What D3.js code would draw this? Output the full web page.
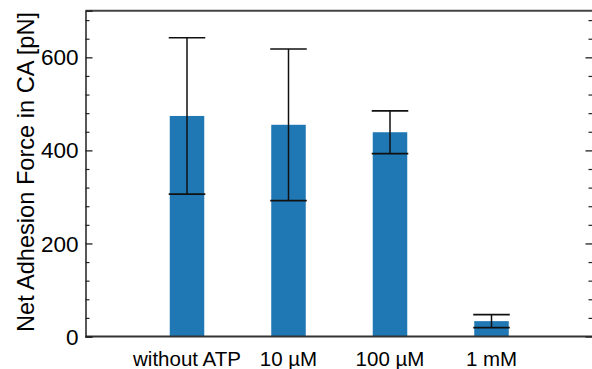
<!DOCTYPE html>
<html>
<head>
<meta charset="utf-8">
<script src="https://cdn.jsdelivr.net/npm/d3@7"></script>
<style>
  html, body { margin: 0; padding: 0; background: #fff; }
  svg { display: block; }
  text { font-family: "Liberation Sans", Arial, Helvetica, sans-serif; }
</style>
</head>
<body>
<svg id="chart" width="592" height="369"></svg>
<script>
const categories = ["without ATP", "10 \u00B5M", "100 \u00B5M", "1 mM"];
const means = [474, 455, 439, 33];
const errors = [168, 163, 46, 14];
const yTickValues = [0, 200, 400, 600];
const yTitle = "Net Adhesion Force in CA [pN]";

(function () {
const svg = d3.select("#chart");
const W = 592, H = 369;
const mLeft = 85.5, mRight = 593, mTop = 10.8, mBottom = 336.5;

const x = d3.scaleLinear().domain([0, categories.length + 1]).range([mLeft, mRight]);
const y = d3.scaleLinear().domain([0, 700]).range([mBottom, mTop]);
const barW = x(0.34) - x(0);
const capW = x(0.36) - x(0);

// bars
svg.append("g").selectAll("rect").data(means).join("rect")
  .attr("x", (d, i) => x(i + 1) - barW / 2)
  .attr("y", d => y(d))
  .attr("width", barW)
  .attr("height", d => y(0) - y(d))
  .attr("fill", "#1f77b4");

// error bars
const eb = svg.append("g").attr("stroke", "#111").attr("fill", "none");
means.forEach((m, i) => {
  const cx = x(i + 1);
  eb.append("line").attr("x1", cx).attr("x2", cx).attr("y1", y(m - errors[i])).attr("y2", y(m + errors[i])).attr("stroke-width", 1.5);
  eb.append("line").attr("x1", cx - capW / 2).attr("x2", cx + capW / 2).attr("y1", y(m + errors[i])).attr("y2", y(m + errors[i])).attr("stroke-width", 1.6);
  eb.append("line").attr("x1", cx - capW / 2).attr("x2", cx + capW / 2).attr("y1", y(m - errors[i])).attr("y2", y(m - errors[i])).attr("stroke-width", 1.6);
});

// frame
svg.append("line").attr("x1", mLeft).attr("x2", W).attr("y1", mTop).attr("y2", mTop).attr("stroke", "#444").attr("stroke-width", 2);
svg.append("line").attr("x1", mLeft).attr("x2", W).attr("y1", mBottom).attr("y2", mBottom).attr("stroke", "#333").attr("stroke-width", 2);

// left axis
const minorTicks = d3.range(0, 701, 40).filter(v => v % 200 !== 0);
const gL = svg.append("g").attr("transform", `translate(${mLeft},0)`)
  .call(d3.axisRight(y).tickValues(yTickValues).tickSize(7).tickFormat(""));
gL.select(".domain").attr("stroke", "#222").attr("stroke-width", 1.5);
gL.selectAll(".tick line").attr("stroke", "#222").attr("stroke-width", 1.3);
const gLm = svg.append("g").attr("transform", `translate(${mLeft},0)`)
  .call(d3.axisRight(y).tickValues(minorTicks).tickSize(4).tickFormat(""));
gLm.select(".domain").remove();
gLm.selectAll(".tick line").attr("stroke", "#222").attr("stroke-width", 1.2);

// left tick labels
svg.append("g").selectAll("text").data(yTickValues).join("text")
  .attr("x", mLeft - 7)
  .attr("y", d => y(d))
  .attr("dy", "0.36em")
  .attr("text-anchor", "end")
  .attr("font-size", 22.5)
  .attr("fill", "#000")
  .text(d => d);

// right axis ticks
const gR = svg.append("g").attr("transform", `translate(${mRight - 0.5},0)`)
  .call(d3.axisLeft(y).tickValues(yTickValues).tickSize(7).tickFormat(""));
gR.select(".domain").remove();
gR.selectAll(".tick line").attr("stroke", "#222").attr("stroke-width", 1.3);
const gRm = svg.append("g").attr("transform", `translate(${mRight - 0.5},0)`)
  .call(d3.axisLeft(y).tickValues(minorTicks).tickSize(4).tickFormat(""));
gRm.select(".domain").remove();
gRm.selectAll(".tick line").attr("stroke", "#222").attr("stroke-width", 1.2);

// x labels
svg.append("g").selectAll("text").data(categories).join("text")
  .attr("x", (d, i) => x(i + 1))
  .attr("y", 366)
  .attr("text-anchor", "middle")
  .attr("font-size", 20.5)
  .attr("fill", "#000")
  .text(d => d);

// y title
svg.append("text")
  .attr("transform", `translate(34,172) rotate(-90)`)
  .attr("text-anchor", "middle")
  .attr("font-size", 23.6)
  .attr("fill", "#000")
  .text(yTitle);
})();
</script>
</body>
</html>
